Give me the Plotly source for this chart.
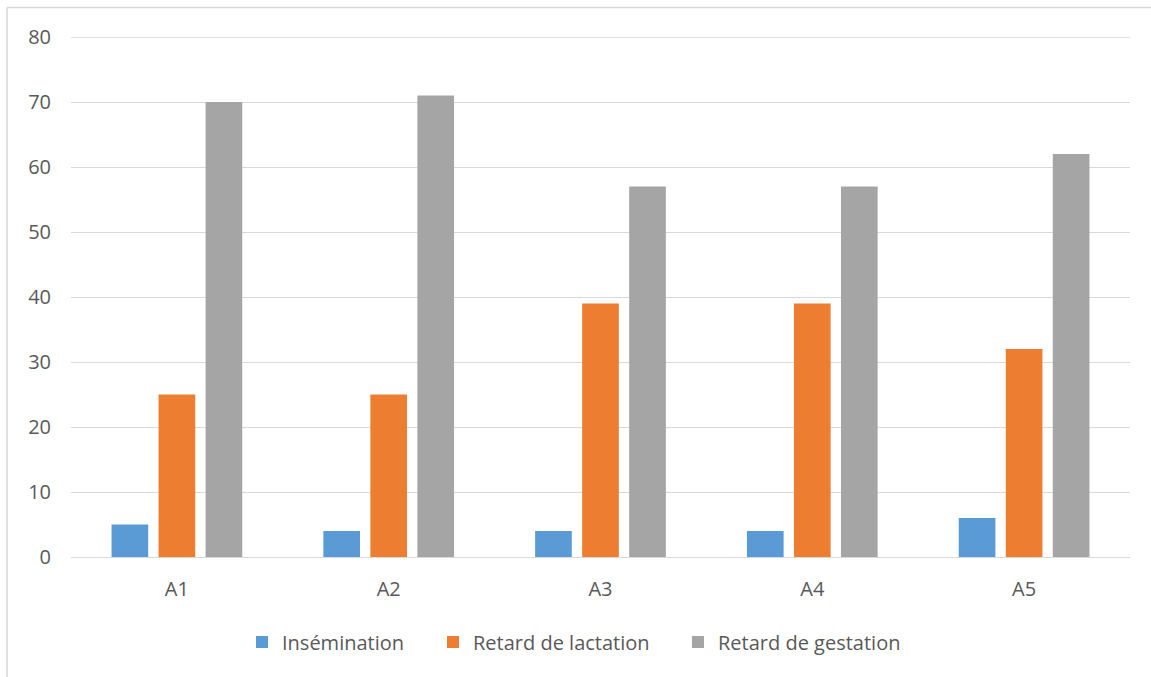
import plotly.graph_objects as go

categories = ["A1", "A2", "A3", "A4", "A5"]
insemination = [5, 4, 4, 4, 6]
retard_lactation = [25, 25, 39, 39, 32]
retard_gestation = [70, 71, 57, 57, 62]
series_names = ["Insémination", "Retard de lactation", "Retard de gestation"]
colors = ["#5B9BD5", "#ED7D31", "#A5A5A5"]
y_ticks = [0, 10, 20, 30, 40, 50, 60, 70, 80]

L, R, T, B = 71, 21, 37, 120
W, H = 1151, 677
PW, PH = W - L - R, H - T - B

def px_x(x):
    return (x - L) / PW

def px_y(y):
    return (H - B - y) / PH

legend_ids = ["legend", "legend2", "legend3"]
legend_text_x = [282, 473, 718]

fig = go.Figure()
for name, vals, col, lid in zip(series_names, [insemination, retard_lactation, retard_gestation], colors, legend_ids):
    fig.add_trace(go.Bar(x=categories, y=vals, name=name, legend=lid,
                         marker=dict(color=col, line=dict(width=0))))

font_family = "Open Sans, Noto Sans, sans-serif"
layout_legends = {}
for lid, tx in zip(legend_ids, legend_text_x):
    layout_legends[lid] = dict(orientation="h", x=px_x(tx - 40), xanchor="left", y=px_y(642), yanchor="middle",
                               font=dict(size=20, color="#595959", family=font_family),
                               bgcolor="rgba(0,0,0,0)")

fig.update_layout(
    width=W, height=H,
    margin=dict(l=L, r=R, t=T, b=B),
    paper_bgcolor="white", plot_bgcolor="white",
    barmode="group", bargap=0.334, bargroupgap=0.22,
    font=dict(family=font_family, color="#595959", size=20),
    showlegend=True,
    xaxis=dict(showgrid=False, showline=False, ticks="", ticklabelstandoff=18,
               tickfont=dict(size=20, color="#595959")),
    yaxis=dict(range=[0, 80], tickvals=y_ticks, showgrid=True, gridcolor="#D9D9D9", gridwidth=1.3,
               zeroline=True, zerolinecolor="#D9D9D9", zerolinewidth=1.3, showline=False,
               ticks="", ticklabelstandoff=19, tickfont=dict(size=20, color="#595959")),
    **layout_legends,
)
# top gridline at the axis maximum (plotly skips grid lines on the range edge)
fig.add_shape(type="line", xref="paper", yref="y", x0=0, x1=1, y0=y_ticks[-1], y1=y_ticks[-1],
              line=dict(color="#D9D9D9", width=1.3), layer="below")
# chart area frame (top and left edges visible)
fig.add_shape(type="line", xref="paper", yref="paper", x0=px_x(7), x1=1.2, y0=px_y(7.5), y1=px_y(7.5),
              line=dict(color="#D9D9D9", width=1.5))
fig.add_shape(type="line", xref="paper", yref="paper", x0=px_x(7), x1=px_x(7), y0=px_y(7.5), y1=-0.5,
              line=dict(color="#D9D9D9", width=1.5))

fig.write_html("out.html", config={"displayModeBar": False},
               post_script="document.body.style.margin='0px';")
